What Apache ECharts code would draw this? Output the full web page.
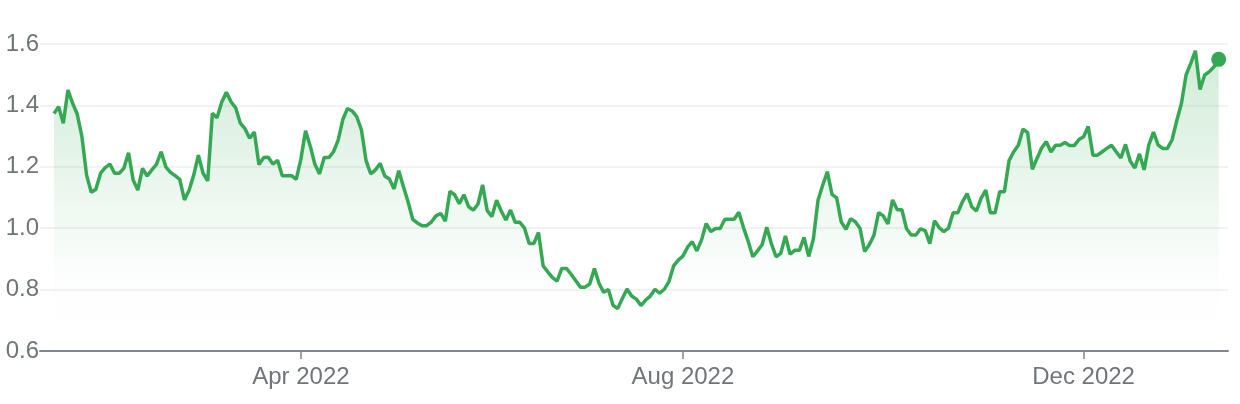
<!DOCTYPE html>
<html>
<head>
<meta charset="utf-8">
<script src="https://cdn.jsdelivr.net/npm/echarts@6/dist/echarts.min.js"></script>
<style>
html,body{margin:0;padding:0;background:#fff;}
#chart{width:1240px;height:404px;}
</style>
</head>
<body>
<div id="chart"></div>
<script>
// Trading-day range and market holidays (used to build the category dates)
const startDate = '2022-01-14';
const holidays = ['2022-01-17','2022-02-21','2022-04-15','2022-05-30','2022-06-20','2022-07-04','2022-09-05','2022-11-24','2022-12-26','2023-01-02'];

// Closing values, one per trading day
const values = [
1.374,1.396,1.342,1.450,1.407,1.371,1.298,1.173,1.117,1.127,
1.179,1.197,1.209,1.179,1.179,1.195,1.246,1.157,1.124,1.195,
1.170,1.190,1.208,1.249,1.200,1.182,1.171,1.159,1.092,1.124,
1.173,1.238,1.179,1.154,1.374,1.360,1.410,1.443,1.412,1.392,
1.342,1.324,1.293,1.313,1.207,1.230,1.231,1.209,1.221,1.171,
1.171,1.171,1.159,1.225,1.317,1.268,1.208,1.177,1.230,1.230,
1.249,1.287,1.354,1.390,1.382,1.363,1.320,1.219,1.177,1.190,
1.211,1.170,1.160,1.128,1.187,1.136,1.086,1.029,1.017,1.008,
1.008,1.020,1.040,1.048,1.023,1.120,1.109,1.080,1.109,1.070,
1.059,1.078,1.141,1.057,1.038,1.091,1.056,1.027,1.059,1.019,
1.019,1.000,0.950,0.950,0.986,0.877,0.858,0.839,0.828,0.869,
0.869,0.850,0.829,0.808,0.808,0.818,0.869,0.820,0.791,0.800,
0.749,0.738,0.771,0.802,0.779,0.769,0.748,0.766,0.779,0.801,
0.788,0.801,0.826,0.877,0.896,0.909,0.938,0.956,0.926,0.962,
1.015,0.989,0.999,0.999,1.029,1.029,1.029,1.052,1.002,0.958,
0.907,0.926,0.946,1.003,0.949,0.907,0.918,0.975,0.915,0.928,
0.928,0.970,0.908,0.965,1.091,1.140,1.184,1.110,1.099,1.020,
0.996,1.031,1.021,1.000,0.924,0.946,0.977,1.051,1.040,1.014,
1.092,1.060,1.060,0.998,0.978,0.978,0.998,0.992,0.950,1.024,
1.002,0.989,1.000,1.050,1.050,1.086,1.113,1.070,1.056,1.097,
1.124,1.050,1.050,1.119,1.119,1.220,1.249,1.270,1.323,1.311,
1.192,1.227,1.261,1.282,1.248,1.270,1.270,1.279,1.269,1.269,
1.289,1.298,1.331,1.238,1.238,1.249,1.260,1.270,1.249,1.229,
1.273,1.219,1.196,1.242,1.190,1.271,1.313,1.271,1.260,1.260,
1.288,1.350,1.406,1.499,1.537,1.578,1.452,1.499,1.510,1.526,
1.550
];

// Tick labels on the x axis (first trading day of these months)
const xTickMonths = ['2022-04','2022-08','2022-12'];
const yTicks = [0.6, 0.8, 1.0, 1.2, 1.4, 1.6];

// Build trading dates
function buildDates(start, n, hol) {
  const out = [];
  const d = new Date(start + 'T00:00:00Z');
  while (out.length < n) {
    const day = d.getUTCDay();
    const s = d.toISOString().slice(0, 10);
    if (day !== 0 && day !== 6 && hol.indexOf(s) < 0) out.push(s);
    d.setUTCDate(d.getUTCDate() + 1);
  }
  return out;
}
const dates = buildDates(startDate, values.length, holidays);
const monthNames = ['Jan','Feb','Mar','Apr','May','Jun','Jul','Aug','Sep','Oct','Nov','Dec'];
const tickIdx = xTickMonths.map(m => dates.findIndex(s => s.slice(0, 7) === m));
const seriesData = values.map((v, i) => [i, v]);
const lastIdx = values.length - 1;

const chart = echarts.init(document.getElementById('chart'), null, {renderer: 'canvas'});
const labelColor = '#70757a';
const fontFam = '"Liberation Sans", Arial, sans-serif';
chart.setOption({
  animation: false,
  backgroundColor: '#ffffff',
  grid: {left: 40, right: 12, top: 44, bottom: 53, containLabel: false},
  xAxis: {
    type: 'value',
    min: -3,
    max: lastIdx + 2,
    splitLine: {show: false},
    axisLine: {show: true, lineStyle: {color: '#80868b', width: 2}},
    axisTick: {show: true, customValues: tickIdx, length: 8, lineStyle: {color: '#80868b', width: 1.5}},
    axisLabel: {
      show: true,
      customValues: tickIdx,
      margin: 14,
      color: labelColor,
      fontSize: 24,
      fontFamily: fontFam,
      formatter: function (v) {
        const s = dates[Math.round(v)];
        if (!s) return '';
        return monthNames[parseInt(s.slice(5, 7), 10) - 1] + ' ' + s.slice(0, 4);
      }
    }
  },
  yAxis: {
    type: 'value',
    min: yTicks[0],
    max: yTicks[yTicks.length - 1],
    interval: 0.2,
    axisLine: {show: false},
    axisTick: {show: false},
    splitLine: {show: true, lineStyle: {color: '#f2f2f2', width: 2}},
    axisLabel: {
      color: labelColor,
      fontSize: 24,
      margin: 1,
      fontFamily: fontFam,
      formatter: v => v.toFixed(1)
    }
  },
  series: [{
    type: 'line',
    data: seriesData,
    showSymbol: false,
    symbol: 'none',
    lineStyle: {color: '#34a853', width: 3.5},
    itemStyle: {color: '#34a853'},
    areaStyle: {
      color: new echarts.graphic.LinearGradient(0, 0, 0, 1, [
        {offset: 0, color: 'rgba(52,168,83,0.32)'},
        {offset: 0.75, color: 'rgba(52,168,83,0.02)'},
        {offset: 1, color: 'rgba(52,168,83,0)'}
      ])
    },
    markPoint: {
      symbol: 'circle',
      symbolSize: 15,
      itemStyle: {color: '#34a853'},
      label: {show: false},
      data: [{coord: seriesData[lastIdx]}]
    },
    z: 3
  }]
});
</script>
</body>
</html>
